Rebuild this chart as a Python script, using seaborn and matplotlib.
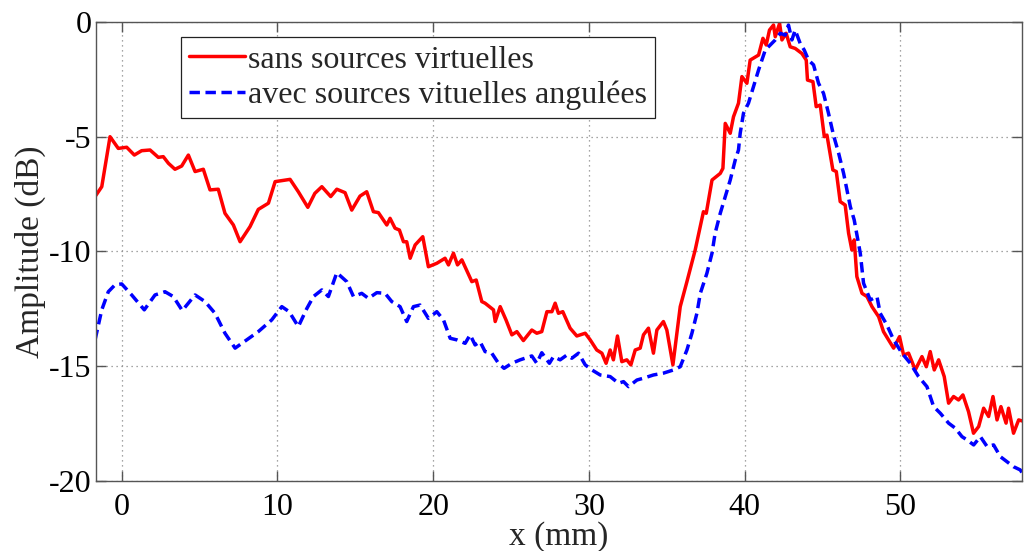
import seaborn as sns
import matplotlib.pyplot as plt
import numpy as np
import pandas as pd

x_sans = [-1.71, -1.28, -0.75, -0.22, 0.32, 0.81, 1.28, 1.82, 2.35, 2.67, 3.00, 3.42, 3.85, 4.28,
          4.71, 5.24, 5.67, 6.20, 6.63, 7.17, 7.60, 8.24, 8.77, 9.42, 9.85, 10.81, 11.34, 11.95,
          12.40, 12.85, 13.42, 13.81, 14.34, 14.77, 15.30, 15.73, 16.16, 16.48, 17.02, 17.23,
          17.55, 17.83, 18.09, 18.30, 18.52, 18.84, 19.33, 19.69, 20.23, 20.76, 20.98, 21.30,
          21.56, 21.84, 22.48, 22.76, 23.12, 23.33, 23.87, 23.98, 24.30, 24.68, 25.05, 25.37,
          25.79, 26.33, 26.65, 26.97, 27.30, 27.62, 27.83, 28.04, 28.32, 28.79, 29.22, 29.76,
          30.08, 30.50, 30.83, 31.10, 31.36, 31.57, 31.83, 32.11, 32.43, 32.69, 32.97, 33.29,
          33.50, 33.82, 34.14, 34.36, 34.78, 35.00, 35.39, 35.86, 36.29, 36.82, 37.35, 37.53,
          37.90, 38.43, 38.60, 38.75, 39.07, 39.28, 39.60, 39.82, 40.14, 40.35, 40.89, 41.17,
          41.38, 41.59, 41.85, 41.96, 42.24, 42.39, 42.66, 42.92, 43.24, 43.67, 43.95, 44.03,
          44.38, 44.59, 44.85, 45.11, 45.28, 45.66, 45.88, 46.13, 46.45, 46.67, 46.88, 47.03,
          47.20, 47.53, 47.85, 48.17, 48.60, 48.91, 49.56, 49.94, 50.20, 50.52, 50.95, 51.38,
          51.66, 51.91, 52.17, 52.45, 52.81, 53.09, 53.41, 53.73, 54.01, 54.37, 54.69, 55.02,
          55.34, 55.66, 55.94, 56.20, 56.45, 56.78, 56.94, 57.26, 57.59, 57.95]
y_sans = [-7.61, -7.18, -5.00, -5.51, -5.46, -5.80, -5.61, -5.58, -5.90, -5.87, -6.16, -6.42, -6.28,
          -5.80, -6.52, -6.42, -7.32, -7.29, -8.34, -8.85, -9.58, -8.92, -8.17, -7.90, -6.96,
          -6.86, -7.40, -8.08, -7.47, -7.18, -7.61, -7.29, -7.44, -8.20, -7.59, -7.40, -8.27,
          -8.31, -8.85, -8.56, -8.99, -9.07, -9.58, -9.58, -10.30, -9.72, -9.36, -10.67, -10.52,
          -10.30, -10.59, -10.08, -10.59, -10.37, -11.32, -11.25, -12.19, -12.26, -12.55, -13.06,
          -12.41, -13.00, -13.64, -13.50, -13.89, -13.43, -13.57, -13.50, -12.63, -12.63, -12.26,
          -12.70, -12.63, -13.35, -13.69, -13.57, -13.86, -14.30, -14.44, -14.88, -14.30, -14.73,
          -13.69, -14.81, -14.73, -14.95, -14.30, -14.22, -13.64, -13.35, -14.44, -13.43, -13.06,
          -13.43, -14.95, -12.41, -11.32, -9.94, -8.27, -8.34, -6.89, -6.60, -6.38, -4.42, -4.85,
          -4.13, -3.54, -2.38, -2.67, -1.66, -1.44, -0.71, -1.00, -0.35, -0.13, -0.64, -0.06,
          -0.78, -0.49, -1.08, -1.15, -1.37, -1.66, -2.53, -2.60, -3.69, -3.62, -5.00, -4.93,
          -6.45, -6.52, -7.83, -7.98, -9.21, -9.94, -9.50, -11.10, -11.83, -11.97, -12.41, -12.85,
          -13.50, -14.22, -13.72, -14.52, -14.44, -15.17, -14.59, -15.03, -14.37, -15.17, -14.73,
          -15.46, -16.62, -16.33, -16.48, -16.26, -16.99, -17.93, -17.64, -16.84, -17.20, -16.33,
          -17.35, -16.77, -17.49, -16.84, -17.93, -17.35, -17.42]

x_avec = [-1.71, -1.28, -0.86, -0.43, 0.00, 0.64, 1.45, 2.14, 2.78, 3.31, 3.89, 4.71, 5.35, 5.99,
          6.63, 7.28, 8.03, 8.77, 9.63, 10.28, 10.75, 11.34, 11.88, 12.31, 12.85, 13.27, 13.81,
          14.45, 14.88, 15.41, 15.84, 16.38, 16.91, 17.34, 17.87, 18.30, 18.73, 19.16, 19.69,
          20.23, 20.66, 21.09, 21.52, 22.05, 22.37, 22.69, 23.01, 23.33, 23.76, 24.19, 24.55,
          25.05, 25.58, 26.33, 26.65, 26.97, 27.46, 27.72, 28.15, 28.58, 28.90, 29.33, 29.76,
          30.19, 30.72, 31.36, 31.90, 32.22, 32.54, 33.08, 33.50, 34.14, 34.78, 35.43, 35.86,
          36.29, 36.61, 36.93, 37.15, 37.57, 37.90, 38.10, 38.43, 38.75, 39.07, 39.39, 39.60,
          39.71, 39.92, 40.24, 40.56, 40.89, 41.10, 41.32, 41.64, 41.96, 42.28, 42.60, 42.81,
          43.03, 43.24, 43.56, 43.82, 44.10, 44.42, 44.74, 45.06, 45.38, 45.70, 46.03, 46.35,
          46.56, 46.78, 47.03, 47.42, 47.63, 48.06, 48.49, 48.70, 49.13, 49.56, 50.10, 50.63,
          51.16, 51.70, 52.13, 52.56, 53.09, 53.52, 53.95, 54.27, 54.70, 55.13, 55.56, 55.98,
          56.41, 56.84, 57.26, 57.69, 57.95]
y_avec = [-13.86, -12.55, -11.76, -11.46, -11.42, -11.90, -12.55, -11.90, -11.76, -11.97, -12.58,
          -11.90, -12.19, -12.70, -13.57, -14.22, -13.86, -13.50, -12.99, -12.41, -12.63, -13.28,
          -12.50, -11.97, -11.68, -11.97, -10.93, -11.32, -11.97, -11.83, -12.05, -11.80, -11.83,
          -12.19, -12.41, -13.06, -12.41, -12.34, -12.92, -12.63, -12.99, -13.79, -13.86, -14.01,
          -13.64, -14.08, -13.94, -14.37, -14.44, -14.88, -15.10, -14.88, -14.73, -14.56, -14.88,
          -14.42, -14.88, -14.59, -14.73, -14.52, -14.66, -14.44, -14.95, -15.17, -15.39, -15.46,
          -15.75, -15.68, -15.90, -15.61, -15.53, -15.39, -15.31, -15.17, -15.03, -14.30, -13.57,
          -12.70, -11.83, -10.96, -10.08, -9.21, -8.34, -7.61, -6.89, -6.02, -5.58, -4.85, -3.98,
          -3.54, -2.82, -2.09, -1.66, -1.22, -1.00, -0.78, -0.49, -0.57, -0.13, -0.78, -0.35,
          -0.93, -1.22, -1.66, -1.87, -2.67, -3.11, -3.98, -4.93, -5.72, -6.60, -7.32, -8.05,
          -8.63, -10.08, -11.39, -12.12, -11.97, -12.70, -13.21, -13.86, -14.44, -14.88, -15.46,
          -15.90, -16.77, -17.06, -17.49, -17.71, -18.08, -18.22, -18.44, -18.08, -18.51, -18.44,
          -18.95, -19.17, -19.39, -19.53, -19.80]

labels = ["sans sources virtuelles", "avec sources vituelles angulées"]

sns.set_style("ticks")
plt.rcParams['font.family'] = ['Liberation Serif', 'DejaVu Serif']
plt.rcParams['axes.unicode_minus'] = False

df1 = pd.DataFrame({'x': x_sans, 'y': y_sans})
df2 = pd.DataFrame({'x': x_avec, 'y': y_avec})

fig = plt.figure(figsize=(10.24, 5.51), dpi=100)
ax = fig.add_axes([0.0933, 0.1276, 0.9047, 0.8324])

sns.lineplot(data=df1, x='x', y='y', sort=False, estimator=None, color='#ff0000',
             linewidth=2.5, label=labels[0], ax=ax)
sns.lineplot(data=df2, x='x', y='y', sort=False, estimator=None, color='#0000ff',
             linewidth=2.5, linestyle=(0, (3.0, 1.6)), label=labels[1], ax=ax)

ax.set_xlim(-1.68, 57.8)
ax.set_ylim(-20, 0)
ax.set_xticks([0, 10, 20, 30, 40, 50])
ax.set_yticks([-20, -15, -10, -5, 0])
ax.grid(True, linestyle=(0, (1, 3)), color='#888888', linewidth=0.9)

for s in ax.spines.values():
    s.set_visible(True)
    s.set_color('#555555')
    s.set_linewidth(1.0)
ax.tick_params(direction='in', length=7, width=1, color='#555555', top=True, right=True,
               labelsize=23, labelcolor='black')
ax.tick_params(axis='x', pad=9)
ax.tick_params(axis='y', pad=3)

ax.set_xlabel('x (mm)', fontsize=24, labelpad=-1)
ax.set_ylabel('Amplitude (dB)', fontsize=24, labelpad=2)

leg = ax.legend(loc='upper left', bbox_to_anchor=(0.092, 0.967), fontsize=23, frameon=True,
                fancybox=False, framealpha=1, edgecolor='#222222', handlelength=1.75,
                handletextpad=0.1, borderpad=0.25, labelspacing=0.2, borderaxespad=0)
leg.get_frame().set_linewidth(0.9)

fig.savefig('out.png', dpi=100)
